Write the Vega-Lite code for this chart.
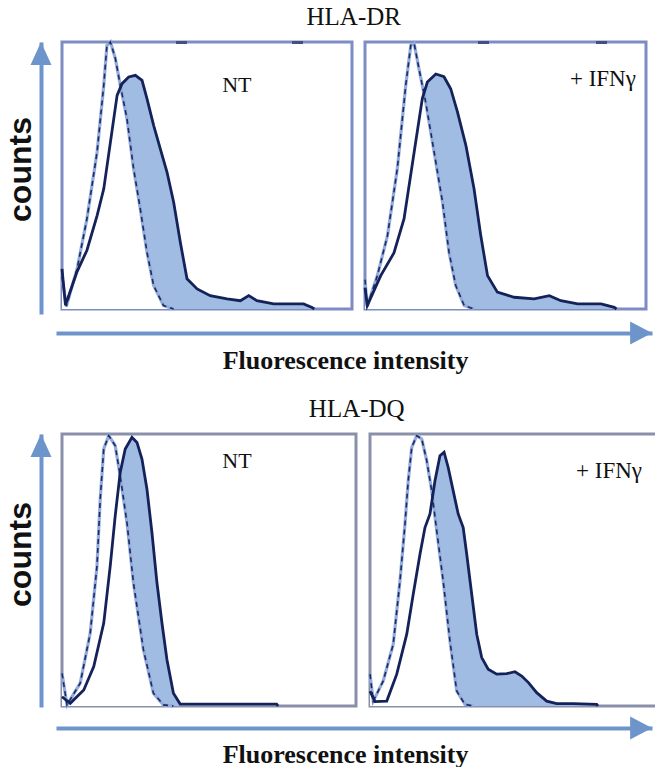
{
"$schema": "https://vega.github.io/schema/vega-lite/v6.json",
"background": "white",
"padding": {"left": 4, "top": 4, "right": 0, "bottom": 0},
"config": {
  "view": {"stroke": null},
  "concat": {"spacing": 0},
  "title": {"font": "Liberation Serif", "fontSize": 25, "fontWeight": "normal", "color": "#111111", "anchor": "middle", "offset": 4}
},
"datasets": {
"hist": [
{"p":"DR_NT","s":"iso","x":0,"y":12},{"p":"DR_NT","s":"iso","x":1.5,"y":1},{"p":"DR_NT","s":"iso","x":5.2,"y":15},{"p":"DR_NT","s":"iso","x":8.6,"y":33.8},{"p":"DR_NT","s":"iso","x":12.1,"y":58.8},{"p":"DR_NT","s":"iso","x":14.4,"y":83.8},{"p":"DR_NT","s":"iso","x":15.5,"y":98.8},{"p":"DR_NT","s":"iso","x":16.7,"y":100},{"p":"DR_NT","s":"iso","x":18.4,"y":93.8},{"p":"DR_NT","s":"iso","x":20.1,"y":83.8},{"p":"DR_NT","s":"iso","x":22.4,"y":71.3},{"p":"DR_NT","s":"iso","x":24.7,"y":52.5},{"p":"DR_NT","s":"iso","x":27,"y":37.5},{"p":"DR_NT","s":"iso","x":29.3,"y":21.3},{"p":"DR_NT","s":"iso","x":31.6,"y":8.8},{"p":"DR_NT","s":"iso","x":35,"y":1.3},{"p":"DR_NT","s":"iso","x":38.5,"y":0},
{"p":"DR_NT","s":"pos","x":0,"y":15},{"p":"DR_NT","s":"pos","x":1.2,"y":1.5},{"p":"DR_NT","s":"pos","x":5.2,"y":14},{"p":"DR_NT","s":"pos","x":8.6,"y":22},{"p":"DR_NT","s":"pos","x":12.1,"y":35},{"p":"DR_NT","s":"pos","x":14.4,"y":45},{"p":"DR_NT","s":"pos","x":16.7,"y":62.5},{"p":"DR_NT","s":"pos","x":19,"y":80},{"p":"DR_NT","s":"pos","x":20.7,"y":84.4},{"p":"DR_NT","s":"pos","x":23,"y":86.9},{"p":"DR_NT","s":"pos","x":25.3,"y":87.5},{"p":"DR_NT","s":"pos","x":27.6,"y":85.6},{"p":"DR_NT","s":"pos","x":29.3,"y":78.8},{"p":"DR_NT","s":"pos","x":31.6,"y":68.8},{"p":"DR_NT","s":"pos","x":33.9,"y":60},{"p":"DR_NT","s":"pos","x":36.2,"y":51.3},{"p":"DR_NT","s":"pos","x":38.5,"y":40},{"p":"DR_NT","s":"pos","x":40.8,"y":25},{"p":"DR_NT","s":"pos","x":43.1,"y":11.3},{"p":"DR_NT","s":"pos","x":46.6,"y":7.5},{"p":"DR_NT","s":"pos","x":51.1,"y":5},{"p":"DR_NT","s":"pos","x":56.9,"y":3.8},{"p":"DR_NT","s":"pos","x":61.5,"y":3.1},{"p":"DR_NT","s":"pos","x":64.4,"y":5},{"p":"DR_NT","s":"pos","x":67.2,"y":3.1},{"p":"DR_NT","s":"pos","x":73,"y":1.9},{"p":"DR_NT","s":"pos","x":78.7,"y":1.9},{"p":"DR_NT","s":"pos","x":83.3,"y":1.9},{"p":"DR_NT","s":"pos","x":86.2,"y":0.6},{"p":"DR_NT","s":"pos","x":87,"y":0},
{"p":"DR_IFN","s":"iso","x":0,"y":11},{"p":"DR_IFN","s":"iso","x":0.8,"y":1},{"p":"DR_IFN","s":"iso","x":4.4,"y":12.5},{"p":"DR_IFN","s":"iso","x":8,"y":27.5},{"p":"DR_IFN","s":"iso","x":11.5,"y":52.5},{"p":"DR_IFN","s":"iso","x":14.5,"y":83.8},{"p":"DR_IFN","s":"iso","x":16.3,"y":98.8},{"p":"DR_IFN","s":"iso","x":17.5,"y":99.4},{"p":"DR_IFN","s":"iso","x":19.2,"y":90},{"p":"DR_IFN","s":"iso","x":21.6,"y":77.5},{"p":"DR_IFN","s":"iso","x":24.6,"y":58.8},{"p":"DR_IFN","s":"iso","x":27.6,"y":40},{"p":"DR_IFN","s":"iso","x":29.9,"y":21.3},{"p":"DR_IFN","s":"iso","x":32.3,"y":8.8},{"p":"DR_IFN","s":"iso","x":35.3,"y":1.3},{"p":"DR_IFN","s":"iso","x":38.8,"y":0},
{"p":"DR_IFN","s":"pos","x":0,"y":8},{"p":"DR_IFN","s":"pos","x":0.8,"y":1.3},{"p":"DR_IFN","s":"pos","x":5.6,"y":12.5},{"p":"DR_IFN","s":"pos","x":10.3,"y":21},{"p":"DR_IFN","s":"pos","x":13.9,"y":33.8},{"p":"DR_IFN","s":"pos","x":17.5,"y":58.8},{"p":"DR_IFN","s":"pos","x":20.4,"y":78.8},{"p":"DR_IFN","s":"pos","x":22.2,"y":85},{"p":"DR_IFN","s":"pos","x":25.2,"y":88},{"p":"DR_IFN","s":"pos","x":28.1,"y":87},{"p":"DR_IFN","s":"pos","x":30.5,"y":82.5},{"p":"DR_IFN","s":"pos","x":32.9,"y":73.8},{"p":"DR_IFN","s":"pos","x":35.9,"y":61.3},{"p":"DR_IFN","s":"pos","x":38.8,"y":45},{"p":"DR_IFN","s":"pos","x":41.2,"y":27.5},{"p":"DR_IFN","s":"pos","x":43.6,"y":12.5},{"p":"DR_IFN","s":"pos","x":47.1,"y":6.3},{"p":"DR_IFN","s":"pos","x":53.1,"y":4.4},{"p":"DR_IFN","s":"pos","x":60.2,"y":3.8},{"p":"DR_IFN","s":"pos","x":65.6,"y":5},{"p":"DR_IFN","s":"pos","x":69.7,"y":3.1},{"p":"DR_IFN","s":"pos","x":75.7,"y":1.9},{"p":"DR_IFN","s":"pos","x":84,"y":1.9},{"p":"DR_IFN","s":"pos","x":88.7,"y":0.6},{"p":"DR_IFN","s":"pos","x":89.5,"y":0},
{"p":"DQ_NT","s":"iso","x":0,"y":12},{"p":"DQ_NT","s":"iso","x":1.7,"y":0.4},{"p":"DQ_NT","s":"iso","x":6.2,"y":8.4},{"p":"DQ_NT","s":"iso","x":9.6,"y":26.8},{"p":"DQ_NT","s":"iso","x":11.9,"y":51.4},{"p":"DQ_NT","s":"iso","x":13,"y":76},{"p":"DQ_NT","s":"iso","x":14.2,"y":94.5},{"p":"DQ_NT","s":"iso","x":15.9,"y":99.4},{"p":"DQ_NT","s":"iso","x":18.1,"y":95.7},{"p":"DQ_NT","s":"iso","x":19.8,"y":84.6},{"p":"DQ_NT","s":"iso","x":22.1,"y":67.4},{"p":"DQ_NT","s":"iso","x":24.3,"y":45.3},{"p":"DQ_NT","s":"iso","x":27.7,"y":20.7},{"p":"DQ_NT","s":"iso","x":31.1,"y":4.7},{"p":"DQ_NT","s":"iso","x":34.5,"y":0.4},{"p":"DQ_NT","s":"iso","x":37.9,"y":0},
{"p":"DQ_NT","s":"pos","x":0,"y":3.4},{"p":"DQ_NT","s":"pos","x":2.8,"y":1},{"p":"DQ_NT","s":"pos","x":7.4,"y":5.9},{"p":"DQ_NT","s":"pos","x":10.8,"y":14.5},{"p":"DQ_NT","s":"pos","x":14.2,"y":30.5},{"p":"DQ_NT","s":"pos","x":16.4,"y":51.4},{"p":"DQ_NT","s":"pos","x":18.1,"y":69.9},{"p":"DQ_NT","s":"pos","x":19.8,"y":85.9},{"p":"DQ_NT","s":"pos","x":21.5,"y":94.5},{"p":"DQ_NT","s":"pos","x":23.8,"y":98.8},{"p":"DQ_NT","s":"pos","x":25.5,"y":96.9},{"p":"DQ_NT","s":"pos","x":27.2,"y":90.8},{"p":"DQ_NT","s":"pos","x":28.9,"y":79.7},{"p":"DQ_NT","s":"pos","x":30.6,"y":63.7},{"p":"DQ_NT","s":"pos","x":32.3,"y":45.3},{"p":"DQ_NT","s":"pos","x":34,"y":30.5},{"p":"DQ_NT","s":"pos","x":35.7,"y":17},{"p":"DQ_NT","s":"pos","x":37.9,"y":4.7},{"p":"DQ_NT","s":"pos","x":40.2,"y":0.7},{"p":"DQ_NT","s":"pos","x":47,"y":0.7},{"p":"DQ_NT","s":"pos","x":58.3,"y":0.7},{"p":"DQ_NT","s":"pos","x":73,"y":0.7},{"p":"DQ_NT","s":"pos","x":73.5,"y":0},
{"p":"DQ_IFN","s":"iso","x":0,"y":11.7},{"p":"DQ_IFN","s":"iso","x":1.1,"y":1.8},{"p":"DQ_IFN","s":"iso","x":4.5,"y":9.2},{"p":"DQ_IFN","s":"iso","x":7.9,"y":22.7},{"p":"DQ_IFN","s":"iso","x":10.2,"y":46},{"p":"DQ_IFN","s":"iso","x":11.9,"y":66.9},{"p":"DQ_IFN","s":"iso","x":13,"y":82.8},{"p":"DQ_IFN","s":"iso","x":14.2,"y":95.1},{"p":"DQ_IFN","s":"iso","x":15.9,"y":99.4},{"p":"DQ_IFN","s":"iso","x":17.6,"y":98.2},{"p":"DQ_IFN","s":"iso","x":19.3,"y":90.2},{"p":"DQ_IFN","s":"iso","x":21,"y":79.1},{"p":"DQ_IFN","s":"iso","x":22.7,"y":64.4},{"p":"DQ_IFN","s":"iso","x":24.9,"y":46},{"p":"DQ_IFN","s":"iso","x":27.2,"y":23.9},{"p":"DQ_IFN","s":"iso","x":29.5,"y":5.5},{"p":"DQ_IFN","s":"iso","x":32.3,"y":0.6},{"p":"DQ_IFN","s":"iso","x":35.1,"y":0},
{"p":"DQ_IFN","s":"pos","x":0,"y":5.5},{"p":"DQ_IFN","s":"pos","x":1.7,"y":1.6},{"p":"DQ_IFN","s":"pos","x":5.7,"y":1.8},{"p":"DQ_IFN","s":"pos","x":9.1,"y":11.7},{"p":"DQ_IFN","s":"pos","x":12.5,"y":26.4},{"p":"DQ_IFN","s":"pos","x":14.7,"y":41.1},{"p":"DQ_IFN","s":"pos","x":17,"y":55.8},{"p":"DQ_IFN","s":"pos","x":18.7,"y":65.6},{"p":"DQ_IFN","s":"pos","x":20.4,"y":70.6},{"p":"DQ_IFN","s":"pos","x":22.1,"y":82.8},{"p":"DQ_IFN","s":"pos","x":23.8,"y":92},{"p":"DQ_IFN","s":"pos","x":25.2,"y":93.3},{"p":"DQ_IFN","s":"pos","x":26.6,"y":87.7},{"p":"DQ_IFN","s":"pos","x":28.3,"y":79.1},{"p":"DQ_IFN","s":"pos","x":30,"y":70.6},{"p":"DQ_IFN","s":"pos","x":31.7,"y":65.6},{"p":"DQ_IFN","s":"pos","x":32.9,"y":55.8},{"p":"DQ_IFN","s":"pos","x":34.6,"y":41.1},{"p":"DQ_IFN","s":"pos","x":36.3,"y":26.4},{"p":"DQ_IFN","s":"pos","x":38,"y":17.8},{"p":"DQ_IFN","s":"pos","x":40.2,"y":13.5},{"p":"DQ_IFN","s":"pos","x":43.1,"y":11.7},{"p":"DQ_IFN","s":"pos","x":46.5,"y":11.9},{"p":"DQ_IFN","s":"pos","x":49.3,"y":12.6},{"p":"DQ_IFN","s":"pos","x":51.6,"y":11},{"p":"DQ_IFN","s":"pos","x":53.9,"y":8.6},{"p":"DQ_IFN","s":"pos","x":56.7,"y":4.9},{"p":"DQ_IFN","s":"pos","x":60.1,"y":1.8},{"p":"DQ_IFN","s":"pos","x":63.5,"y":0.9},{"p":"DQ_IFN","s":"pos","x":69.2,"y":0.9},{"p":"DQ_IFN","s":"pos","x":77.1,"y":0.6},{"p":"DQ_IFN","s":"pos","x":77.5,"y":0}
],
"labels": [
{"p":"DR_NT","label":"NT","x":60.3,"y":84},
{"p":"DR_IFN","label":"+ IFNγ","x":96.4,"y":86},
{"p":"DQ_NT","label":"NT","x":59.5,"y":90},
{"p":"DQ_IFN","label":"+ IFNγ","x":92.5,"y":86.4}
]
},
"spacing": 0,
"vconcat": [
  {
    "title": {"text": "HLA-DR", "dx": 28},
    "spacing": 0,
    "hconcat": [
      {
        "width": 12.5, "height": 272,
        "data": {"values": [{"axis": "counts"}]},
        "mark": {"type": "point", "shape": "M0,0L1,2.2L-1,2.2Z", "size": 441, "filled": true, "color": "#6d95cc", "opacity": 1},
        "encoding": {
          "x": {"datum": 0, "type": "quantitative", "scale": {"domain": [0, 1]}, "axis": null},
          "y": {"datum": 1, "type": "quantitative", "scale": {"domain": [0, 1]}, "axis": {"title": "counts", "domain": true, "domainColor": "#6d95cc", "domainWidth": 4, "ticks": false, "labels": false, "grid": false, "titleFont": "Liberation Sans", "titleFontSize": 32, "titleFontWeight": "bold", "titleColor": "#111111", "titlePadding": 4, "titleY": 127}}
        }
      },
      {
        "width": 290, "height": 267,
        "view": {"stroke": "#7d8cc3", "strokeWidth": 3},
        "encoding": {
          "x": {"field": "x", "type": "quantitative", "scale": {"domain": [0, 100]}, "axis": {"orient": "top", "values": [41, 81], "domain": false, "labels": false, "grid": false, "ticks": true, "tickSize": 3, "tickWidth": 11, "tickColor": "#44507e", "offset": -1.5, "title": null}},
          "y": {"field": "y", "type": "quantitative", "scale": {"domain": [0, 100]}, "axis": null}
        },
        "layer": [
          {"data": {"name": "hist"}, "transform": [{"filter": "datum.p === 'DR_NT' && datum.s === 'pos'"}], "mark": {"type": "area", "color": "#a0bce3", "opacity": 1}},
          {"data": {"name": "hist"}, "transform": [{"filter": "datum.p === 'DR_NT' && datum.s === 'iso'"}], "mark": {"type": "area", "color": "#ffffff", "opacity": 1}},
          {"data": {"name": "hist"}, "transform": [{"filter": "datum.p === 'DR_NT' && datum.s === 'iso'"}], "mark": {"type": "line", "color": "#93abdb", "strokeWidth": 3.2}},
          {"data": {"name": "hist"}, "transform": [{"filter": "datum.p === 'DR_NT' && datum.s === 'iso'"}], "mark": {"type": "line", "color": "#1d2b63", "strokeWidth": 1.6, "strokeDash": [5, 4]}},
          {"data": {"name": "hist"}, "transform": [{"filter": "datum.p === 'DR_NT' && datum.s === 'pos'"}], "mark": {"type": "line", "color": "#15225a", "strokeWidth": 2.8}},
          {"data": {"name": "labels"}, "transform": [{"filter": "datum.p === 'DR_NT'"}], "mark": {"type": "text", "font": "Liberation Serif", "fontSize": 22, "color": "#111111", "align": "center", "baseline": "middle"}, "encoding": {"text": {"field": "label"}}}
        ]
      },
      {"width": 3, "height": 1, "data": {"values": []}, "mark": "point"},
      {
        "width": 281, "height": 267,
        "view": {"stroke": "#7d8cc3", "strokeWidth": 3},
        "encoding": {
          "x": {"field": "x", "type": "quantitative", "scale": {"domain": [0, 100]}, "axis": {"orient": "top", "values": [42, 84], "domain": false, "labels": false, "grid": false, "ticks": true, "tickSize": 3, "tickWidth": 11, "tickColor": "#44507e", "offset": -1.5, "title": null}},
          "y": {"field": "y", "type": "quantitative", "scale": {"domain": [0, 100]}, "axis": null}
        },
        "layer": [
          {"data": {"name": "hist"}, "transform": [{"filter": "datum.p === 'DR_IFN' && datum.s === 'pos'"}], "mark": {"type": "area", "color": "#a0bce3", "opacity": 1}},
          {"data": {"name": "hist"}, "transform": [{"filter": "datum.p === 'DR_IFN' && datum.s === 'iso'"}], "mark": {"type": "area", "color": "#ffffff", "opacity": 1}},
          {"data": {"name": "hist"}, "transform": [{"filter": "datum.p === 'DR_IFN' && datum.s === 'iso'"}], "mark": {"type": "line", "color": "#93abdb", "strokeWidth": 3.2}},
          {"data": {"name": "hist"}, "transform": [{"filter": "datum.p === 'DR_IFN' && datum.s === 'iso'"}], "mark": {"type": "line", "color": "#1d2b63", "strokeWidth": 1.6, "strokeDash": [5, 4]}},
          {"data": {"name": "hist"}, "transform": [{"filter": "datum.p === 'DR_IFN' && datum.s === 'pos'"}], "mark": {"type": "line", "color": "#15225a", "strokeWidth": 2.8}},
          {"data": {"name": "labels"}, "transform": [{"filter": "datum.p === 'DR_IFN'"}], "mark": {"type": "text", "font": "Liberation Serif", "fontSize": 23, "color": "#111111", "align": "right", "baseline": "middle"}, "encoding": {"text": {"field": "label"}}}
        ]
      }
    ]
  },
  {"width": 1, "height": 4, "data": {"values": []}, "mark": "point"},
  {
    "spacing": 0,
    "hconcat": [
      {"width": 15, "height": 1, "data": {"values": []}, "mark": "point"},
      {
        "width": 596, "height": 1,
        "data": {"values": [{"axis": "fluorescence"}]},
        "mark": {"type": "point", "shape": "M0,0L-1.9,-1L-1.9,1Z", "size": 529, "filled": true, "color": "#6d95cc", "opacity": 1},
        "encoding": {
          "x": {"datum": 1, "type": "quantitative", "scale": {"domain": [0, 1]}, "axis": {"orient": "bottom", "title": "Fluorescence intensity", "domain": true, "domainColor": "#6d95cc", "domainWidth": 4, "ticks": false, "labels": false, "grid": false, "titleFont": "Liberation Serif", "titleFontSize": 26, "titleFontWeight": "bold", "titleColor": "#111111", "titlePadding": 14, "titleX": 289}},
          "y": {"datum": 0, "type": "quantitative", "scale": {"domain": [0, 1]}, "axis": null}
        }
      }
    ]
  },
  {"width": 1, "height": 23, "data": {"values": []}, "mark": "point"},
  {
    "title": {"text": "HLA-DQ", "dx": 22, "offset": 6},
    "spacing": 0,
    "hconcat": [
      {
        "width": 12.5, "height": 273,
        "data": {"values": [{"axis": "counts"}]},
        "mark": {"type": "point", "shape": "M0,0L1,2.2L-1,2.2Z", "size": 441, "filled": true, "color": "#6d95cc", "opacity": 1},
        "encoding": {
          "x": {"datum": 0, "type": "quantitative", "scale": {"domain": [0, 1]}, "axis": null},
          "y": {"datum": 1, "type": "quantitative", "scale": {"domain": [0, 1]}, "axis": {"title": "counts", "domain": true, "domainColor": "#6d95cc", "domainWidth": 4, "ticks": false, "labels": false, "grid": false, "titleFont": "Liberation Sans", "titleFontSize": 32, "titleFontWeight": "bold", "titleColor": "#111111", "titlePadding": 4, "titleY": 120}}
        }
      },
      {
        "width": 294, "height": 272,
        "view": {"stroke": "#8a90aa", "strokeWidth": 3},
        "encoding": {
          "x": {"field": "x", "type": "quantitative", "scale": {"domain": [0, 100]}, "axis": null},
          "y": {"field": "y", "type": "quantitative", "scale": {"domain": [0, 100]}, "axis": null}
        },
        "layer": [
          {"data": {"name": "hist"}, "transform": [{"filter": "datum.p === 'DQ_NT' && datum.s === 'pos'"}], "mark": {"type": "area", "color": "#a0bce3", "opacity": 1}},
          {"data": {"name": "hist"}, "transform": [{"filter": "datum.p === 'DQ_NT' && datum.s === 'iso'"}], "mark": {"type": "area", "color": "#ffffff", "opacity": 1}},
          {"data": {"name": "hist"}, "transform": [{"filter": "datum.p === 'DQ_NT' && datum.s === 'iso'"}], "mark": {"type": "line", "color": "#93abdb", "strokeWidth": 3.2}},
          {"data": {"name": "hist"}, "transform": [{"filter": "datum.p === 'DQ_NT' && datum.s === 'iso'"}], "mark": {"type": "line", "color": "#1d2b63", "strokeWidth": 1.6, "strokeDash": [5, 4]}},
          {"data": {"name": "hist"}, "transform": [{"filter": "datum.p === 'DQ_NT' && datum.s === 'pos'"}], "mark": {"type": "line", "color": "#15225a", "strokeWidth": 2.8}},
          {"data": {"name": "labels"}, "transform": [{"filter": "datum.p === 'DQ_NT'"}], "mark": {"type": "text", "font": "Liberation Serif", "fontSize": 22, "color": "#111111", "align": "center", "baseline": "middle"}, "encoding": {"text": {"field": "label"}}}
        ]
      },
      {"width": 4, "height": 1, "data": {"values": []}, "mark": "point"},
      {
        "width": 294, "height": 272,
        "view": {"stroke": "#8a90aa", "strokeWidth": 3},
        "encoding": {
          "x": {"field": "x", "type": "quantitative", "scale": {"domain": [0, 100]}, "axis": null},
          "y": {"field": "y", "type": "quantitative", "scale": {"domain": [0, 100]}, "axis": null}
        },
        "layer": [
          {"data": {"name": "hist"}, "transform": [{"filter": "datum.p === 'DQ_IFN' && datum.s === 'pos'"}], "mark": {"type": "area", "color": "#a0bce3", "opacity": 1}},
          {"data": {"name": "hist"}, "transform": [{"filter": "datum.p === 'DQ_IFN' && datum.s === 'iso'"}], "mark": {"type": "area", "color": "#ffffff", "opacity": 1}},
          {"data": {"name": "hist"}, "transform": [{"filter": "datum.p === 'DQ_IFN' && datum.s === 'iso'"}], "mark": {"type": "line", "color": "#93abdb", "strokeWidth": 3.2}},
          {"data": {"name": "hist"}, "transform": [{"filter": "datum.p === 'DQ_IFN' && datum.s === 'iso'"}], "mark": {"type": "line", "color": "#1d2b63", "strokeWidth": 1.6, "strokeDash": [5, 4]}},
          {"data": {"name": "hist"}, "transform": [{"filter": "datum.p === 'DQ_IFN' && datum.s === 'pos'"}], "mark": {"type": "line", "color": "#15225a", "strokeWidth": 2.8}},
          {"data": {"name": "labels"}, "transform": [{"filter": "datum.p === 'DQ_IFN'"}], "mark": {"type": "text", "font": "Liberation Serif", "fontSize": 23, "color": "#111111", "align": "right", "baseline": "middle"}, "encoding": {"text": {"field": "label"}}}
        ]
      }
    ]
  },
  {"width": 1, "height": 1.5, "data": {"values": []}, "mark": "point"},
  {
    "spacing": 0,
    "hconcat": [
      {"width": 15, "height": 1, "data": {"values": []}, "mark": "point"},
      {
        "width": 596, "height": 1,
        "data": {"values": [{"axis": "fluorescence"}]},
        "mark": {"type": "point", "shape": "M0,0L-1.9,-1L-1.9,1Z", "size": 529, "filled": true, "color": "#6d95cc", "opacity": 1},
        "encoding": {
          "x": {"datum": 1, "type": "quantitative", "scale": {"domain": [0, 1]}, "axis": {"orient": "bottom", "title": "Fluorescence intensity", "domain": true, "domainColor": "#6d95cc", "domainWidth": 4, "ticks": false, "labels": false, "grid": false, "titleFont": "Liberation Serif", "titleFontSize": 26, "titleFontWeight": "bold", "titleColor": "#111111", "titlePadding": 13, "titleX": 289}},
          "y": {"datum": 0, "type": "quantitative", "scale": {"domain": [0, 1]}, "axis": null}
        }
      }
    ]
  }
]
}
